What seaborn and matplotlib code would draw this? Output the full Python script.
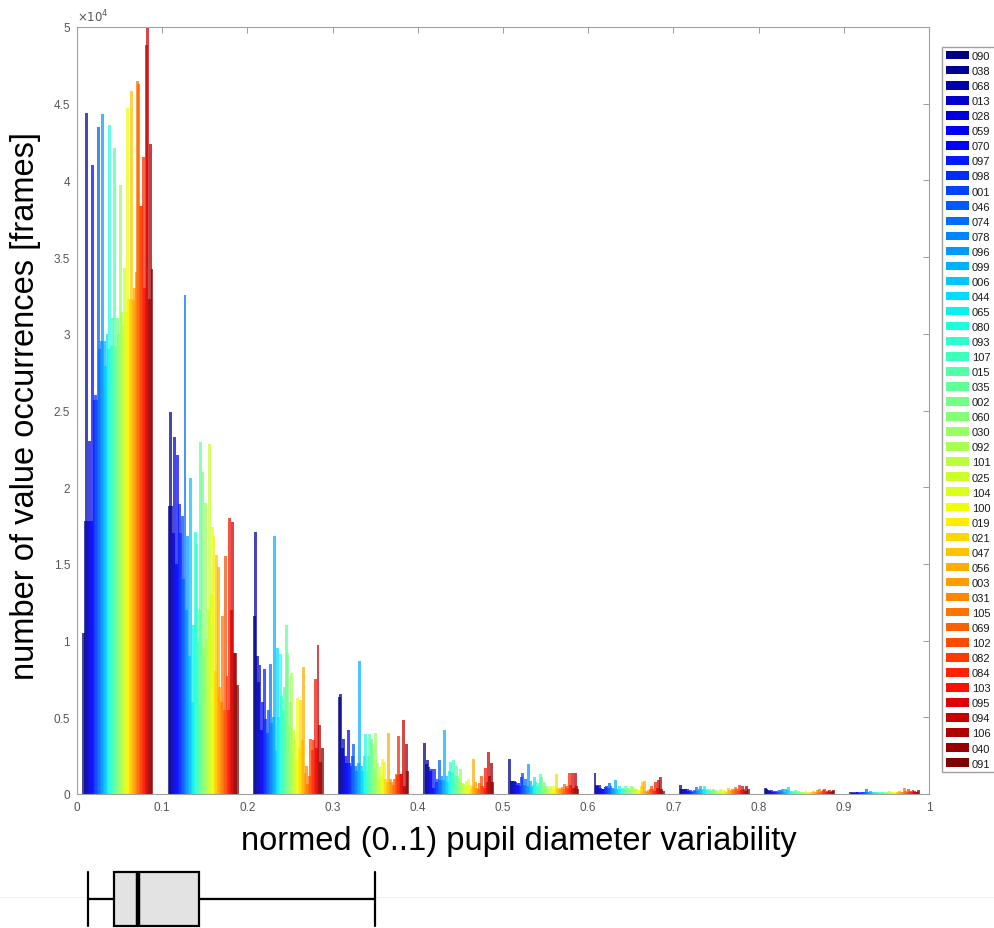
import numpy as np
import pandas as pd
import matplotlib
matplotlib.use("Agg")
import matplotlib.pyplot as plt
import seaborn as sns
from matplotlib.patches import Patch
from matplotlib.lines import Line2D

# ---------------- data ----------------
subjects = ["090", "038", "068", "013", "028", "059", "070", "097", "098", "001",
            "046", "074", "078", "096", "099", "006", "044", "065", "080", "093",
            "107", "015", "035", "002", "060", "030", "092", "101", "025", "104",
            "100", "019", "021", "047", "056", "003", "031", "105", "069", "102",
            "082", "084", "103", "095", "094", "106", "040", "091"]

bin_starts = [0.0, 0.1, 0.2, 0.3, 0.4, 0.5, 0.6, 0.7, 0.8, 0.9]

g0 = [10500, 17800, 44400, 17800, 23000, 17800, 41000, 25700, 26000, 25700,
      43500, 29000, 29500, 44300, 29500, 27900, 30000, 29000, 43600, 29200,
      31000, 42100, 29200, 31000, 30000, 39700, 31400, 30500, 34300, 31400,
      44700, 32300, 32300, 45800, 32200, 33000, 34000, 46500, 46300, 38300,
      38300, 41500, 33000, 48800, 50000, 32300, 42400, 34200]
g1 = [18800, 24900, 18800, 17000, 23250, 15000, 22100, 18900, 17000, 18100,
      14000, 32550, 12000, 16800, 9000, 20600, 6000, 11000, 17100, 16300,
      9900, 12000, 22950, 21000, 9500, 19000, 10100, 12000, 22800, 13000,
      17400, 16800, 8000, 15600, 14800, 7000, 6000, 11600, 5500, 15500,
      7700, 5500, 18000, 12000, 17700, 9200, 9200, 7100]
g2 = [11600, 17060, 9000, 7300, 8400, 4200, 6000, 8150, 4900, 4000,
      5500, 8450, 4600, 5000, 16800, 2900, 9500, 5000, 9100, 6400,
      5500, 7000, 11000, 9200, 4450, 6000, 7900, 4200, 3500, 2300,
      6250, 3000, 6100, 3500, 8250, 1400, 1800, 650, 1200, 3600,
      2900, 3500, 7500, 3000, 9700, 4500, 2100, 3000]
g3 = [6300, 6500, 3000, 3600, 2500, 2000, 4200, 2000, 1850, 2500,
      3250, 1850, 1500, 2000, 8700, 1850, 1500, 2500, 3900, 1500,
      2500, 3900, 3600, 3250, 1500, 3950, 2000, 1000, 1750, 1200,
      2300, 2100, 1000, 800, 4000, 1000, 800, 600, 1000, 1300,
      1250, 3750, 1300, 1300, 4850, 550, 3250, 1500]
g4 = [3300, 1950, 2200, 1750, 1500, 1650, 400, 1650, 800, 1000,
      2200, 900, 1200, 900, 4200, 1200, 800, 1500, 2100, 1450,
      2200, 1200, 1850, 1200, 800, 1650, 700, 650, 500, 870,
      980, 600, 330, 500, 2300, 800, 400, 300, 700, 1200,
      550, 400, 1700, 800, 2750, 1200, 2050, 800]
g5 = [2300, 850, 850, 850, 800, 600, 730, 500, 1100, 1360,
      600, 980, 500, 1950, 870, 450, 600, 1130, 800, 500,
      700, 1300, 1100, 600, 800, 500, 450, 300, 520, 300,
      550, 250, 1300, 400, 300, 400, 450, 350, 650, 550,
      400, 1360, 600, 1360, 400, 1360, 500, 300]
g6 = [1360, 600, 550, 600, 400, 330, 300, 450, 500, 400,
      700, 550, 400, 300, 900, 350, 300, 550, 300, 400,
      300, 550, 300, 400, 250, 520, 450, 400, 300, 350,
      250, 200, 500, 780, 870, 200, 150, 250, 300, 550,
      300, 200, 800, 400, 930, 1090, 300, 200]
g7 = [580, 300, 320, 350, 300, 320, 200, 250, 150, 200,
      250, 450, 200, 300, 520, 250, 300, 520, 300, 250,
      320, 200, 250, 300, 200, 250, 150, 200, 300, 150,
      250, 200, 150, 390, 250, 200, 300, 250, 450, 320,
      200, 580, 250, 550, 300, 200, 520, 300]
g8 = [400, 300, 250, 200, 250, 150, 200, 150, 200, 150,
      250, 200, 300, 150, 300, 250, 450, 200, 150, 200,
      150, 250, 150, 200, 150, 100, 150, 100, 200, 150,
      150, 150, 100, 200, 150, 100, 250, 300, 150, 200,
      250, 300, 150, 200, 250, 150, 200, 250]
g9 = [100, 80, 100, 80, 120, 100, 80, 100, 120, 150,
      100, 320, 150, 100, 200, 100, 80, 100, 150, 100,
      80, 120, 100, 150, 80, 100, 120, 200, 150, 100,
      80, 120, 100, 150, 200, 100, 150, 420, 200, 150,
      300, 200, 150, 250, 200, 150, 100, 250]
groups = [g0, g1, g2, g3, g4, g5, g6, g7, g8, g9]

# box plot summary (whisker low, q1, median, q3, whisker high)
box_stats = {"whislo": 0.0125, "q1": 0.0438, "med": 0.0712, "q3": 0.1432, "whishi": 0.3498}

xticks = [0, 0.1, 0.2, 0.3, 0.4, 0.5, 0.6, 0.7, 0.8, 0.9, 1.0]
yticks = [0, 5000, 10000, 15000, 20000, 25000, 30000, 35000, 40000, 45000, 50000]

# ---------------- build table ----------------
n = len(subjects)
rows = []
for b0, vals in zip(bin_starts, groups):
    for i, (s, v) in enumerate(zip(subjects, vals)):
        x = round(b0 + 0.008 + i * 0.08 / (n - 1), 6)
        rows.append((x, v, s))
df = pd.DataFrame(rows, columns=["x", "count", "subject"])

colors = [matplotlib.colormaps["jet"](t) for t in np.linspace(0, 1, n)]
palette = dict(zip(subjects, colors))

# ---------------- style ----------------
sns.set_style("white")
plt.rcParams["font.family"] = ["Liberation Sans", "DejaVu Sans"]
plt.rcParams["text.color"] = "black"
plt.rcParams["axes.labelcolor"] = "black"

W, H = 995, 929
fig = plt.figure(figsize=(W / 100, H / 100), dpi=100)

ax = fig.add_axes([77 / W, 1 - 795 / H, 852 / W, 767 / H])
sns.barplot(data=df, x="x", y="count", hue="subject", hue_order=subjects,
            palette=palette, native_scale=True, dodge=False, width=2.0,
            saturation=1, errorbar=None, legend=False, linewidth=0,
            alpha=0.72, ax=ax)

ax.set_xlim(0, 1)
ax.set_ylim(0, 50000)
ax.set_xticks(xticks)
ax.set_xticklabels([f"{v:g}" for v in xticks])
ax.set_yticks(yticks)
ax.set_yticklabels([f"{v / 1e4:g}" for v in yticks])
ax.tick_params(direction="in", top=True, right=True, length=4.5, width=0.7,
               color="#9a9a9a", labelsize=8.5, labelcolor="#555555", pad=5)
for sp in ax.spines.values():
    sp.set_color("#a0a0a0")
    sp.set_linewidth(0.8)
    sp.set_visible(True)
ax.text(0.0, 1.004, r"$\times10^{4}$", transform=ax.transAxes, ha="left", va="bottom",
        fontsize=8.5, color="#555555")

ax.set_xlabel("normed (0..1) pupil diameter variability", fontsize=23.5, color="black")
ax.xaxis.set_label_coords(0.518, -0.040)
ax.xaxis.label.set_va("top")
ax.set_ylabel("number of value occurrences [frames]", fontsize=23.5, color="black")
ax.yaxis.set_label_coords(-0.042, 0.507)

# legend
handles = [Patch(facecolor=palette[s], edgecolor="none") for s in subjects]
leg = fig.legend(handles, subjects, loc="upper left", bbox_to_anchor=(942 / W, 1 - 48 / H),
                 borderaxespad=0, handlelength=2.1, handleheight=0.8,
                 handletextpad=0.25, labelspacing=0.445, borderpad=0.35, frameon=True,
                 fancybox=False, edgecolor="#a0a0a0", framealpha=1,
                 prop={"size": 8})
for t in leg.get_texts():
    t.set_color("#1a1a1a")

# faint separator line
fig.add_artist(Line2D([0, 1], [1 - 898 / H, 1 - 898 / H], transform=fig.transFigure,
                      color="#f0f0f0", lw=0.8, zorder=0))

# boxplot
bax = fig.add_axes([77 / W, 0, 852 / W, 69 / H])
bax.set_xlim(0, 1)
bax.set_ylim(-29, 40)
bax.axis("off")
bax.patch.set_alpha(0)
st = dict(box_stats)
st["fliers"] = []
bax.bxp([st], positions=[0], widths=54, vert=False, patch_artist=True,
        showfliers=False, capwidths=[54],
        boxprops=dict(facecolor="#e3e3e3", edgecolor="black", linewidth=1.6),
        whiskerprops=dict(color="black", linewidth=1.6),
        capprops=dict(color="black", linewidth=1.6),
        medianprops=dict(color="black", linewidth=3.2))

fig.savefig("out.png", dpi=100)
